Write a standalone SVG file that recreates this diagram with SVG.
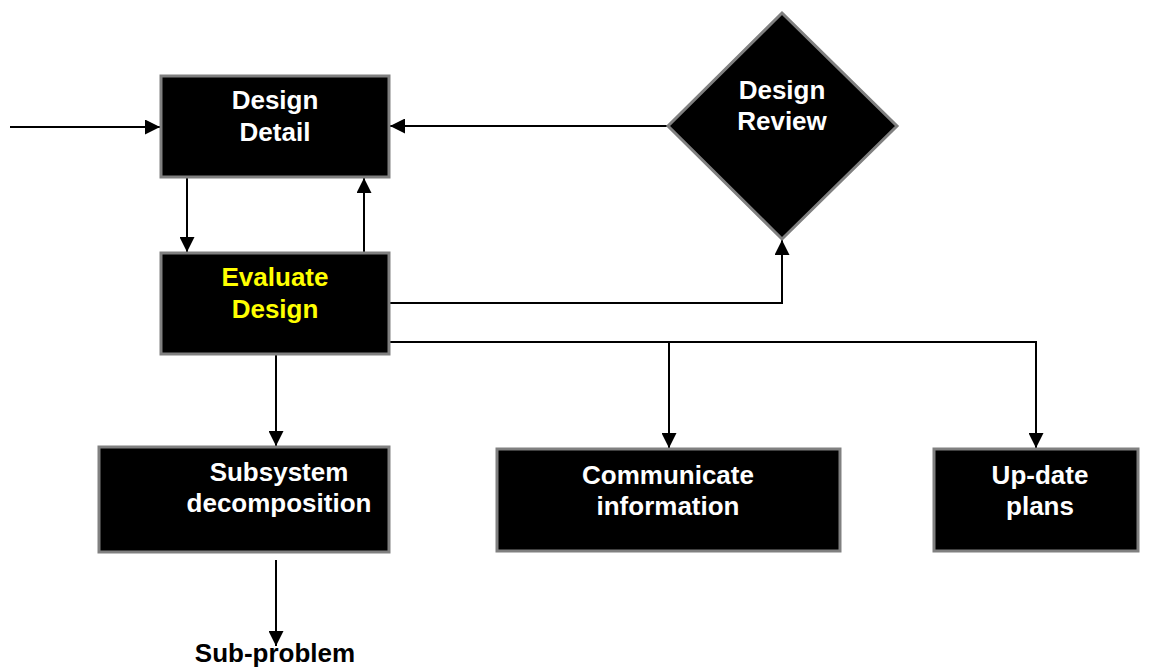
<svg xmlns="http://www.w3.org/2000/svg" width="1156" height="669" viewBox="0 0 1156 669">
<style>
.box{fill:#000;stroke:#808080;stroke-width:3}
.t{font-family:"Liberation Sans",Arial,sans-serif;font-weight:bold;font-size:26px;fill:#fff;text-anchor:middle}
.y{fill:#ffff00}
.c{fill:none;stroke:#000;stroke-width:2}
</style>
<defs>
<marker id="ah" markerUnits="userSpaceOnUse" markerWidth="15" markerHeight="15" refX="15" refY="7.5" orient="auto">
<path d="M0,0 L15,7.5 L0,15 z" fill="#000"/>
</marker>
</defs>
<rect width="1156" height="669" fill="#fff"/>
<g id="connectors">
<path class="c" d="M10,127 H160" marker-end="url(#ah)"/>
<path class="c" d="M668,126 H390" marker-end="url(#ah)"/>
<path class="c" d="M187,177 V252" marker-end="url(#ah)"/>
<path class="c" d="M364,253 V178" marker-end="url(#ah)"/>
<path class="c" d="M389,303 H782 V240" marker-end="url(#ah)"/>
<path class="c" d="M389,342 H1036 V448" marker-end="url(#ah)"/>
<path class="c" d="M669,342 V448" marker-end="url(#ah)"/>
<path class="c" d="M276,354 V446" marker-end="url(#ah)"/>
<path class="c" d="M276,560 V646" marker-end="url(#ah)"/>
</g>
<g id="design-detail">
<rect class="box" x="161" y="76" width="228" height="101"/>
<text class="t" x="275" y="109">Design</text>
<text class="t" x="275" y="141">Detail</text>
</g>
<g id="evaluate-design">
<rect class="box" x="161" y="253" width="228" height="101"/>
<text class="t y" x="275" y="286">Evaluate</text>
<text class="t y" x="275" y="318">Design</text>
</g>
<g id="design-review">
<polygon class="box" points="782,13 897,126 782,239 668,126"/>
<text class="t" x="782" y="99">Design</text>
<text class="t" x="782" y="130">Review</text>
</g>
<g id="subsystem">
<rect class="box" x="99" y="447" width="290" height="105"/>
<text class="t" x="279" y="481">Subsystem</text>
<text class="t" x="279" y="512">decomposition</text>
</g>
<g id="communicate">
<rect class="box" x="497" y="449" width="343" height="102"/>
<text class="t" x="668" y="484">Communicate</text>
<text class="t" x="668" y="515">information</text>
</g>
<g id="update">
<rect class="box" x="934" y="449" width="204" height="102"/>
<text class="t" x="1040" y="484">Up-date</text>
<text class="t" x="1040" y="515">plans</text>
</g>
<g id="sub-problem">
<text class="t" x="275" y="662" style="fill:#000">Sub-problem</text>
</g>
</svg>
